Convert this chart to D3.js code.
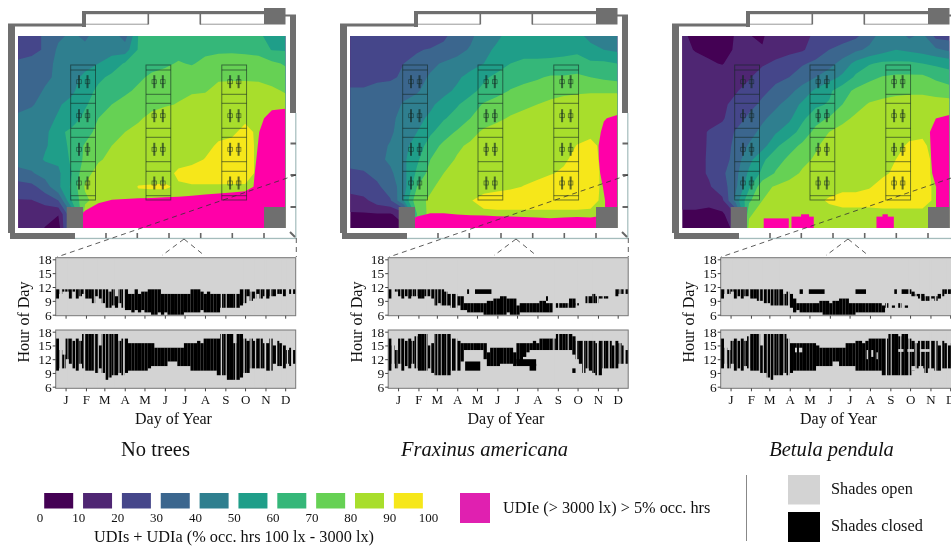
<!DOCTYPE html>
<html>
<head>
<meta charset="utf-8">
<script src="https://cdn.jsdelivr.net/npm/d3@7"></script>
<style>
  body { margin: 0; background: #fff; }
  svg { display: block; filter: blur(0.45px); }
  text { font-family: "Liberation Serif", serif; fill: #111; }
</style>
</head>
<body>
<svg id="chart" width="951" height="546"></svg>
<script>
// Sensor grid, 21 columns by 15 rows, window wall on the top edge
var noTreesUdi = [
  [25,27.5,31,38,42,38,45,45,36,60.5,64,65,65,65,65,65,65,65,62,56,56],
  [25,27.5,31,42,42,43,46,46,45,61,64,65,66,66,67,68,68,67,66,59.5,59],
  [32,33,37,42,45,47,50,55,61,64,66,68,71,69,73,75,76,76,75,72,69],
  [35,37,38,42,47,52,58,62,64,68,72,74,76,77,78,78,78,78,78,76,74],
  [35,36,41,46,48,56,62,64,68,72,75,77,78,79,79,84,85,85,84,82,79],
  [37,39,44,49,53,59,64,70,74,77,78,79,80.5,83,86,86,86,87,86,85,85],
  [42,44,47,51,56,62,70,74,77,79,82,85,86,87,87,87,88,88,88,88,88],
  [44,44,47,58,62,66,73,76,80,82,85,86,87,88,88,88,88,93,88,88,88],
  [45,45,49,54,63,71,76,80,83,85,86,87,88,88,88,91,93,94,88,88,88],
  [44,45,51,52,62,72,79,82,84,85,86,87,88,88,90.3,93,94,94,88,88,88],
  [37,39,44,48,60,77,83,85,86,86,87,88,91,93,93,93,94,94,88,88,88],
  [25,27,35,48,62,81,84,85,86,90.4,90.6,90.6,89.3,89.3,89.3,89.3,89,89,88,88,88],
  [19.5,19.5,24,30,60,78,84,85,86,87,87,87,87,87,87,87,87,87,86,85,85],
  [15,15,12,10.5,40,85,85,85,85,85,85,85,85,85,85,85,85,85,85,85,85],
  [14,13,9.8,5,45,85,85,85,85,85,85,85,85,85,85,85,85,85,85,85,85]
];
var noTreesUdie = [
  [0,0,0,0,0,0,0,0,0,0,0,0,0,0,0,0,0,0,0,0,0],
  [0,0,0,0,0,0,0,0,0,0,0,0,0,0,0,0,0,0,0,0,0],
  [0,0,0,0,0,0,0,0,0,0,0,0,0,0,0,0,0,0,0,0,0],
  [0,0,0,0,0,0,0,0,0,0,0,0,0,0,0,0,0,0,0,0,0],
  [0,0,0,0,0,0,0,0,0,0,0,0,0,0,0,0,0,0,0,0,0],
  [0,0,0,0,0,0,0,0,0,0,0,0,0,0,0,0,0,0,0,0,0],
  [0,0,0,0,0,0,0,0,0,0,0,0,0,0,0,0,0,0,0,12,16],
  [0,0,0,0,0,0,0,0,0,0,0,0,0,0,0,0,0,0,4.7,10,10],
  [0,0,0,0,0,0,0,0,0,0,0,0,0,0,0,0,0,0,5.3,10,10],
  [0,0,0,0,0,0,0,0,0,0,0,0,0,0,0,0,0,0,6,10,10],
  [0,0,0,0,0,0,0,0,0,0,0,0,0,0,0,0,0,0,7,10,10],
  [0,0,0,0,0,0,0,0,0,0,0,0,0,0,0,0,0,0,8,10,10],
  [0,0,0,0,0,0,3.75,5.3,5.7,6,6.2,6.6,7,7.8,9,10.5,12.4,16,20,20,20],
  [0,0,0,0,0,6.8,10,10,10,10,10,10,10,10,10,10,10,10,10,10,10],
  [0,0,0,0,0,10,10,10,10,10,10,10,10,10,10,10,10,10,10,10,10]
];
var fraxinusUdi = [
  [22,22,22,22,22,22,22,28,35,38,45,48,54,55,55,55,55,52,48,46,46],
  [25,25,25,25,27,29,31,33,37,41,47,52,55,56,56,57,58,58,52,50,48],
  [26,26,26,27,30,33,38,41,43,45,50,54,60,62,62,62,62,64,62,62,60],
  [27,27,28,28,32,37,41,44,48,54,58,63,66,68,69,71,71,72,70,68,66],
  [31,31,33,35,37,39,44,47,52,57,63,67,70.5,72,74,75,77,78,79,79,79],
  [33,31,30,36,41,44,48,54,59,65,71,74,76,78,80,83,85,86,85,85,85],
  [33,34,35,38,43,47,52,59,64,70,74,78,81,83,85,85,86,86,87,88,88],
  [34,35,36,38,46,50,58,66,71,76,82,84,85,86,86,87,87,87,88,88,88],
  [35,35,36,41,48,53,66,72,78,82,85,85,86,87,87,87,87,90.3,92,88,88],
  [34,35,37,42,48,58,70,76,81,83,85,86,87,87,87,88,89,92,93,88,88],
  [28,29,33,38,47,62,74,80,83,85,86,87,87,88,88,89.5,91,93,94,88,88],
  [25,27,28,35,45,70,79,82,85,86,87,88,89,90.2,92,94,94,94,94,88,88],
  [15,17,25,29,50,78,81,84,86,89.5,93,94,94,94,94,94,94,94,93,88,88],
  [9,9,9,9,15,70,84,85,86,88,88,88,88,88,88,88,88,88,88,88,88],
  [6,6,6,6,8,85,85,85,85,85,85,85,85,85,85,85,85,85,85,85,85]
];
var fraxinusUdie = [
  [0,0,0,0,0,0,0,0,0,0,0,0,0,0,0,0,0,0,0,0,0],
  [0,0,0,0,0,0,0,0,0,0,0,0,0,0,0,0,0,0,0,0,0],
  [0,0,0,0,0,0,0,0,0,0,0,0,0,0,0,0,0,0,0,0,0],
  [0,0,0,0,0,0,0,0,0,0,0,0,0,0,0,0,0,0,0,0,0],
  [0,0,0,0,0,0,0,0,0,0,0,0,0,0,0,0,0,0,0,0,0],
  [0,0,0,0,0,0,0,0,0,0,0,0,0,0,0,0,0,0,0,0,0],
  [0,0,0,0,0,0,0,0,0,0,0,0,0,0,0,0,0,0,0,4.55,6.6],
  [0,0,0,0,0,0,0,0,0,0,0,0,0,0,0,0,0,0,0,6.45,10],
  [0,0,0,0,0,0,0,0,0,0,0,0,0,0,0,0,0,0,0,8.3,10],
  [0,0,0,0,0,0,0,0,0,0,0,0,0,0,0,0,0,0,0,8,10],
  [0,0,0,0,0,0,0,0,0,0,0,0,0,0,0,0,0,0,0,6.9,10],
  [0,0,0,0,0,0,0,0,0,0,0,0,0,0,0,0,0,0,0,5.4,10],
  [0,0,0,0,0,0,0,0,0,0,0,0,0,0,0,0,0,0,0,4.5,10],
  [0,0,0,0,0,4,5.4,5.4,4.9,4.6,4.5,4.2,4,3.7,3.5,3,3.5,3.8,3.5,4.5,10],
  [0,0,0,0,7,10,10,10,10,10,10,10,10,10,10,10,10,10,10,10,10]
];
var betulaUdi = [
  [12,7,7,7,10.5,10.2,9.2,14,15,17,22,25,26,28,36,44,46,38,43,27,26],
  [14,9,8,8.5,10.5,14,10.5,15,17,18.8,25,30,33,38,42,46,50,48,46,42,38],
  [15,15,11,9.5,14,16,18.5,22,25,29,32,36,44,53,59,62,62,62,60,58,56],
  [15,15,15,15,16,19,25,28,30,35,40,46,52,62,68,70.5,72,72,72,68,65],
  [14,14,15,16,19,24,28,32,37,44,52,58,66,72,74,76,77,78,78,76,74],
  [14,14,15,18,23,27,32,38,44,52,58,61,70,76,81,83,85,85,85,85,85],
  [14,14,15,19,25,32,38,44,48,58,66,71,77,82,85,86,86,87,87,87,87],
  [14,15,21,23,31,36,43,49,55,64,73,80,84,86,86,87,87,88,88,86,86],
  [14,16,21,24,33,41,46,58,66,72,79,83,85,86,87,87,88,91,92,86,86],
  [15,17,21,24,35,47,58,66,72,78,81,85,86,86,87,88,90,93,94,87,87],
  [15,17,21,28,37,52,62,71,77,81,84,85,86,87,88,89,91,93,94,87,87],
  [15,15,19,25,38,58,77,81,83,85,86,87,88,88,89.5,92,94,94,94,88,88],
  [14,14,12,18,44,68,80,84,85,86,88,91,93,93,93,94,94,94,94,88,88],
  [8,8,8,8,20,78,86,86,86,87,87,87,87,87,87,87,87,87,87,87,87],
  [6,6,6,7,12,84,85,85,85,85,85,85,85,85,85,85,85,85,85,85,85]
];
var betulaUdie = [
  [0,0,0,0,0,0,0,0,0,0,0,0,0,0,0,0,0,0,0,0,0],
  [0,0,0,0,0,0,0,0,0,0,0,0,0,0,0,0,0,0,0,0,0],
  [0,0,0,0,0,0,0,0,0,0,0,0,0,0,0,0,0,0,0,0,0],
  [0,0,0,0,0,0,0,0,0,0,0,0,0,0,0,0,0,0,0,0,0],
  [0,0,0,0,0,0,0,0,0,0,0,0,0,0,0,0,0,0,0,0,0],
  [0,0,0,0,0,0,0,0,0,0,0,0,0,0,0,0,0,0,0,0,0],
  [0,0,0,0,0,0,0,0,0,0,0,0,0,0,0,0,0,0,0,4.9,6.6],
  [0,0,0,0,0,0,0,0,0,0,0,0,0,0,0,0,0,0,0,9,10],
  [0,0,0,0,0,0,0,0,0,0,0,0,0,0,0,0,0,0,0,8.3,10],
  [0,0,0,0,0,0,0,0,0,0,0,0,0,0,0,0,0,0,0,7.7,10],
  [0,0,0,0,0,0,0,0,0,0,0,0,0,0,0,0,0,0,0,6.9,10],
  [0,0,0,0,0,0,0,0,0,0,0,0,0,0,0,0,0,0,0,4.9,10],
  [0,0,0,0,0,0,0,0,0,0,0,0,0,0,0,0,0,0,0,4.95,10],
  [0,0,0,0,0,0,0,0,0,0,0,0,0,0,0,0,0,0,0,4.95,10],
  [0,0,0,0,0,0,0,0,0,0,0,0,0,0,0,0,0,0,0,4.95,10]
];
// Small glare patches too narrow for the grid, [col from, col to, row from, row to]
var noTreesUdieSpots = [];
var fraxinusUdieSpots = [];
var betulaUdieSpots = [[6.1,7.98,13.3,14],[8.18,9.85,13.17,14],[8.9,9.5,13,14],[14.55,15.85,13.17,14],[15,15.4,13,14]];

// Shade schedule per 5-day step of the year: hour closed from, hour closed to (0,0 = open)
var noTreesMorningFrom = [9.5,10.5,11,11,9.5,11,9.5,10,10.5,9.5,9.5,8.5,10,9.5,8.5,7.5,7.5,8,7.5,8.5,7.5,7,7,6.5,7,6.5,7,6.5,6.5,6,6,6.5,6,6.5,6,6,6,6,6,6.5,6.5,6.5,6.5,6.5,7,6.5,6.5,6.5,6.5,6.5,7.5,7.5,7.5,7.5,7.5,7.5,8,8.5,10,9,9.5,10.5,9.5,10,9.5,10,10,10.5,10.5,10,0,10.5,10.5];
var noTreesMorningTo = [11.5,11.5,11.5,11.5,11.5,11.5,11.5,11.5,11.5,11.5,11.5,11.5,11.5,11.5,11.5,11.5,11,11.5,10,11.5,11.5,11.5,10.5,10.5,11.5,10.5,11,11,11.5,11.5,11.5,11.5,10.5,10.5,10.5,10.5,10.5,10.5,10.5,10.5,10.5,11.5,11.5,11.5,11,10.5,11,10.5,10.5,10.5,10.5,10.5,10.5,10.5,10.5,10.5,11.5,11.5,11.5,11,11,11.5,11.5,11.5,11.5,11.5,11.5,11.5,11.5,11.5,0,11.5,11.5];
var noTreesAfternoonFrom = [9.5,10,10,12,11,10,9.5,11,10,9.5,9.5,9.5,9,10,9,7.5,8,8.5,8.5,9,8.5,9,9.5,9.5,9.5,9.5,9.5,9.5,10,10.5,10.5,10.5,10.5,10.5,11.5,11.5,11.5,10.5,10.5,10.5,10.5,9.5,9.5,9.5,9.5,9.5,9.5,9.5,9.5,8.5,8.5,8.5,7.5,7.5,7.5,7.5,8,9,9,10,10,10,10,10,9.5,9.5,11,10.5,10.5,10,11,10.5,11];
var noTreesAfternoonTo = [16.5,14,13,16.5,16.5,16,16.5,16,17.5,17.5,17.5,17.5,17.5,15,17.5,17.5,17.5,17.5,17.5,16,16.5,16.5,15.5,15.5,15.5,15.5,15.5,15.5,15.5,15.5,14.5,14.5,14.5,14.5,14.5,14.5,14.5,14.5,14.5,15.5,15.5,15.5,15.5,16,15.5,16.5,16.5,16.5,16.5,16.5,17.5,17.5,17.5,17.5,15.5,17.5,17.5,16.5,16,16.5,16,16.5,16.5,15.5,15.5,16.5,15,16,15.5,15,14,14.5,14];

var fraxinusMorningFrom = [9.5,0,11,10,9.5,10,9.5,10,10,9.5,9.5,10,10,9.5,8,8.5,8,8,8,7.5,7.5,8,7,7,6.5,6.5,6.5,6.5,6.5,6,6,6,6,6,6,6,6.5,6,6,6,6.5,6.5,6.5,6.5,6.5,6.5,6.5,6.5,6.5,6.5,0,7.5,7.5,7.5,7.5,7.5,7.5,8,0,0,8.5,8.5,8.5,8.5,9.5,9.5,9.5,0,0,10,10.5,10.5,10.5];
var fraxinusMorningTo = [11.5,0,11.5,11.5,11.5,11.5,11.5,11.5,11.5,11.5,11.5,11.5,11.5,11.5,11.5,11.5,11.5,11,10.5,10.5,10.5,10,10,8.5,8.5,8.5,8.5,8.5,8.5,8.5,9,9,9.5,9.5,10,10,9.5,9.5,9.5,8,8.5,8.5,8.5,8.5,8.5,8.5,9,9,8.5,8.5,0,8.5,8.5,8.5,8.5,9.5,9.5,8.5,0,0,10,10,10.5,10,10,10,10,0,0,11.5,11.5,11.5,11.5];
var fraxinusAfternoonFrom = [9.5,11,10,11,9.5,10.5,10,11,10,9.5,9.5,9.5,10,9,8.5,8.5,8.5,8.5,8.5,9.5,9.5,9.5,11.5,14,14,14,14,14,14,12,10.5,10.5,10.5,10.5,11,11,11,11,10.5,11,11,12.5,13.5,14,14,14,14,14,14,14,14,14,14,14,14,14,13,12,11,9,10,9.5,9,8.5,8.5,10,10,10,10,10,11,11,11];
var fraxinusAfternoonTo = [16.5,15,14,16.5,16.5,16,16.5,16,17,17.5,17.5,17.5,15,15.5,17.5,17.5,17.5,17.5,17.5,16.5,16.5,16,15.5,15.5,15.5,15.5,15.5,15.5,15.5,15.5,13.5,14.5,14.5,14.5,14.5,14.5,14.5,14.5,13.5,15.5,15.5,15.5,15.5,15.5,16,15.5,16.5,16.5,16.5,16.5,16.5,17.5,17.5,17.5,17.5,17.5,17,16,16,16,16,16,16,15.5,16,16,16,16,15,16,15.5,15,14];

var betulaMorningFrom = [9.5,10.5,10.5,11,9.5,10,9.5,10,10,9.5,9.5,9,9,8.5,8.5,8,8,8,8,8,8,7.5,6.5,7,6.5,6.5,6.5,6.5,6.5,6.5,6.5,6,6,6,6,6,6,6,6,6,6,6.5,6.5,6.5,6.5,6.5,6.5,6.5,6.5,6.5,7.5,0,7.5,0,7.5,0,7.5,0,10,10,9.5,9,9,9,9.5,9,9.5,10,10.5,10.5,10.5,10.5,10.5];
var betulaMorningTo = [11.5,11.5,11.5,11.5,11.5,11.5,11.5,11.5,11.5,11.5,11.5,11.5,11.5,11.5,11.5,11.5,11.5,11.5,11.5,10.5,11,10.5,9.5,8.5,8.5,8.5,8.5,8.5,8.5,8.5,9,9,9,8.5,9,9,9.5,9.5,9.5,8.5,8.5,8.5,8.5,8.5,8.5,8.5,8.5,8.5,8.5,8,8.5,0,8,0,8.5,0,8,0,11,10.5,10.5,10.5,10,10,10,10,10.5,11.5,11.5,11.5,11.5,11.5,11.5];
var betulaAfternoonFrom = [10,11,10,11,9.5,10,9.5,10.5,10,9.5,9.5,9.5,9,9,8,7.5,8.5,8.5,8.5,9,8.5,9,9.5,9.5,9.5,9.5,9.5,9.5,9.5,10.5,10.5,10.5,10.5,10.5,11.5,11.5,10.5,10.5,10.5,10.5,10.5,9.5,9.5,9.5,9.5,9.5,9.5,9.5,9.5,8.5,8.5,8.5,8.5,8.5,8.5,8.5,8.5,8.5,9.5,10,10,10,9,10,10,9.5,9.5,10,10,10,10.5,10.5,10.5];
var betulaAfternoonTo = [16.5,14.5,14,16,16.5,16,16.5,16,17,17.5,17.5,17.5,15,17.5,17.5,17.5,17.5,17.5,17.5,17.5,16.5,15.5,15.5,15.5,15.5,15.5,15.5,15.5,15.5,15,14.5,14.5,14.5,14.5,14.5,14.5,14.5,14.5,15.5,15.5,15.5,16,16,15.5,16,16.5,16.5,16.5,16.5,16.5,16.5,17.5,17.5,17.5,17,17.5,17.5,16.5,16,15.5,16,16,16,16,16,16,15,16,15.5,15,15.5,15.5,15.5];

// Overcast spells, same weather file for all three cases, the shades stay open [from day, to day]
var overcastDays = [[5.5,9.5],[13,14],[18,19],[24.5,25.5],[29.5,30.5],[36.5,37.5],[42.5,44.5],[58,59.5],[64,65.5],[70.5,71.5],[75,76],[80.5,81.5],[88,89],[95.5,97],[102.5,105],[251,253],[258.5,260],[273,274.5],[285.5,287.5],[296,298],[303,304.5],[311,312],[317.5,320],[326,328],[335,337],[344,345.5],[351.5,353.5],[358,361]];

// Extra closed spells, [from day, to day, from hour, to hour]
var noTreesMorningExtra = [];
var noTreesAfternoonExtra = [];
var fraxinusMorningExtra = [[120,123,10.5,11.5],[132,157,10.5,11.5],[240,243,9,10]];
var fraxinusAfternoonExtra = [[117,140,9.5,11.5],[195,225,10.5,12],[215,225,9.5,11],[280,285,9,10]];
var betulaMorningExtra = [[120,125,10.5,11.5],[134,158,10.5,11.5],[205,221,10.5,11.5],[264,268,10.5,11.5],[275,290,10.5,11.5]];
var betulaAfternoonExtra = [];
// Open spells inside a closed block
var noTreesAfternoonOpen = [];
var fraxinusAfternoonOpen = [];
var betulaAfternoonOpen = [[113,116,13.5,14.5],[119,124,13.5,14.5],[222,224,12,14],[229,232,12.5,14],[237,239,12,13.5],[270,278,13.6,14.2],[284,294,13.6,14.2],[303,318,13.6,14.2],[290,296,9.5,10.5],[301,308,9.5,10.5]];

var monthLabels = ['J','F','M','A','M','J','J','A','S','O','N','D'];
var monthMidDays = [15,46,74,105,135,166,196,227,258,288,319,349];
var hourTicks = [6,9,12,15,18];

var udiLevels = [0,10,20,30,40,50,60,70,80,90];
var udiColors = ['#440154','#4f2673','#45468a','#3b668e','#2f7f8f','#1f9e89','#35b779','#66d154','#a8de2c','#f6e71a'];
var udiTickLabels = [0,10,20,30,40,50,60,70,80,90,100];

var speciesNames = ['No trees','Fraxinus americana','Betula pendula'];

var panels = [
  { title: speciesNames[0], italic: false, dx: 0, mapDx: 0, udi: noTreesUdi, udie: noTreesUdie, spots: noTreesUdieSpots,
    morning: [noTreesMorningFrom, noTreesMorningTo, noTreesMorningExtra, []],
    afternoon: [noTreesAfternoonFrom, noTreesAfternoonTo, noTreesAfternoonExtra, noTreesAfternoonOpen] },
  { title: speciesNames[1], italic: true, dx: 332.5, mapDx: 332, udi: fraxinusUdi, udie: fraxinusUdie, spots: fraxinusUdieSpots,
    morning: [fraxinusMorningFrom, fraxinusMorningTo, fraxinusMorningExtra, []],
    afternoon: [fraxinusAfternoonFrom, fraxinusAfternoonTo, fraxinusAfternoonExtra, fraxinusAfternoonOpen] },
  { title: speciesNames[2], italic: true, dx: 665, mapDx: 664, udi: betulaUdi, udie: betulaUdie, spots: betulaUdieSpots,
    morning: [betulaMorningFrom, betulaMorningTo, betulaMorningExtra, []],
    afternoon: [betulaAfternoonFrom, betulaAfternoonTo, betulaAfternoonExtra, betulaAfternoonOpen] }
];

var svg = d3.select('#chart');
var nCols = 21, nRows = 15;

var roomX = d3.scaleLinear().domain([0.5, nCols - 0.5]).range([18.3, 285.2]);
var roomY = d3.scaleLinear().domain([0.5, nRows - 0.5]).range([36, 228]);
var roomPath = d3.geoPath(d3.geoTransform({
  point: function (x, y) { this.stream.point(roomX(x), roomY(y)); }
}));
var udiColor = d3.scaleOrdinal().domain(udiLevels).range(udiColors);

svg.append('defs').append('clipPath').attr('id', 'roomClip').append('rect')
  .attr('x', 18.3).attr('y', 36).attr('width', 266.9).attr('height', 192);

var wallGray = '#6f6f6f';
var glassGray = '#a4bcbc';

var drawMap = function (g, panel) {
  var contours = d3.contours().size([nCols, nRows]);

  var field = g.append('g').attr('clip-path', 'url(#roomClip)');
  field.selectAll('path.udi')
    .data(contours.thresholds(udiLevels)(d3.merge(panel.udi)))
    .enter().append('path')
    .attr('class', 'udi')
    .attr('d', roomPath)
    .attr('fill', function (d) { return udiColor(d.value); });
  field.selectAll('path.udie')
    .data(contours.thresholds([5])(d3.merge(panel.udie)))
    .enter().append('path')
    .attr('class', 'udie')
    .attr('d', roomPath)
    .attr('fill', '#ff00a8');
  field.selectAll('rect.spot')
    .data(panel.spots)
    .enter().append('rect')
    .attr('class', 'spot')
    .attr('x', function (d) { return roomX(d[0] + 0.5); })
    .attr('width', function (d) { return roomX(d[1] + 0.5) - roomX(d[0] + 0.5); })
    .attr('y', function (d) { return roomY(d[2] + 0.5); })
    .attr('height', function (d) { return roomY(d[3] + 0.5) - roomY(d[2] + 0.5); })
    .attr('fill', '#ff00a8');

  // walls and glazing of the room
  var rect = function (x, y, w, h, fill, stroke) {
    g.append('rect').attr('x', x).attr('y', y).attr('width', w).attr('height', h)
      .attr('fill', fill).attr('stroke', stroke || 'none');
  };
  rect(8, 23.5, 75, 3, wallGray);
  rect(8, 26, 7, 207, wallGray);
  rect(82, 11, 4, 16, wallGray);
  rect(82, 11, 183, 3.2, wallGray);
  rect(86, 23.7, 62, 1, '#999');
  rect(200, 23.7, 64, 1, '#999');
  rect(147.5, 14, 1.6, 10.5, wallGray);
  rect(199.5, 14, 1.6, 10.5, wallGray);
  rect(264, 8, 21.5, 16.5, wallGray);
  rect(285, 14.5, 11, 2, wallGray);
  rect(290, 16, 6, 97, wallGray);
  rect(295.2, 113, 1.2, 125, glassGray);
  rect(10, 233, 65, 6, wallGray);
  rect(75, 237.8, 221, 1.3, glassGray);
  [106, 137.3, 169, 200.7, 232.3, 264].forEach(function (x) { rect(x - 0.8, 233, 1.6, 5, '#666'); });
  [143.5, 175, 207].forEach(function (y) { rect(290.5, y - 1, 5.5, 2, '#666'); });
  rect(66.7, 207, 16.3, 21, wallGray);
  rect(264, 207, 21.3, 21, wallGray);
  g.append('line').attr('x1', 290).attr('y1', 232).attr('x2', 295).attr('y2', 237)
    .attr('stroke', '#666').attr('stroke-width', 2);

  // desks and task lights
  var deskStroke = 'rgba(20,40,35,0.65)';
  [70.7, 146, 221.8].forEach(function (x) {
    g.append('rect').attr('x', x).attr('y', 65).attr('width', 24.8).attr('height', 135)
      .attr('fill', 'none').attr('stroke', deskStroke).attr('stroke-width', 0.9);
    [70, 94.3, 103.3, 128.3, 137.3, 161.7, 171.3, 195.7].forEach(function (y) {
      g.append('line').attr('x1', x).attr('x2', x + 24.8).attr('y1', y).attr('y2', y)
        .attr('stroke', deskStroke).attr('stroke-width', 0.9);
    });
    [81.7, 115.7, 149.3, 183].forEach(function (y) {
      [8.3, 16.8].forEach(function (off) {
        g.append('rect').attr('x', x + off - 1).attr('y', y - 6.5).attr('width', 2).attr('height', 13)
          .attr('fill', deskStroke);
        g.append('rect').attr('x', x + off - 2.3).attr('y', y - 2).attr('width', 4.6).attr('height', 4)
          .attr('fill', 'none').attr('stroke', deskStroke).attr('stroke-width', 0.7);
      });
    });
  });

  // view lines down to the schedules
  var dashed = [[296, 175, 57, 257], [184, 239, 162, 255.5], [184, 239, 205, 256], [296.3, 238, 296.3, 257]];
  dashed.forEach(function (l) {
    g.append('line').attr('x1', l[0]).attr('y1', l[1]).attr('x2', l[2]).attr('y2', l[3])
      .attr('stroke', '#333').attr('stroke-width', 0.8).attr('stroke-dasharray', '5,4');
  });
};

var dayX = d3.scaleLinear().domain([0, 365]).range([55.7, 295.7]);

var drawSchedule = function (g, rows, top, bottom, hour6, hour18, showMonths) {
  var y = d3.scaleLinear().domain([6, 18]).range([hour6, hour18]);
  var from = rows[0], to = rows[1], extra = rows[2], open = rows[3];

  g.append('rect').attr('x', dayX(0)).attr('y', top)
    .attr('width', dayX(365) - dayX(0)).attr('height', bottom - top)
    .attr('fill', '#d3d3d3');

  var step = dayX(5) - dayX(0);
  g.selectAll(null).data(from).enter().append('rect')
    .attr('x', function (d, i) { return dayX(i * 5); })
    .attr('width', step)
    .attr('y', function (d, i) { return y(to[i]); })
    .attr('height', function (d, i) { return Math.max(0, y(d) - y(to[i])); })
    .attr('fill', '#000');

  var runs = function (list, color) {
    g.selectAll(null).data(list).enter().append('rect')
      .attr('x', function (d) { return dayX(d[0]); })
      .attr('width', function (d) { return dayX(d[1]) - dayX(d[0]); })
      .attr('y', function (d) { return y(d[3]); })
      .attr('height', function (d) { return y(d[2]) - y(d[3]); })
      .attr('fill', color);
  };
  runs(extra, '#000');
  runs(open, '#d3d3d3');
  runs(overcastDays.map(function (d) { return [d[0], d[1], 6, 18]; }), '#d3d3d3');

  g.append('rect').attr('x', dayX(0)).attr('y', top)
    .attr('width', dayX(365) - dayX(0)).attr('height', bottom - top)
    .attr('fill', 'none').attr('stroke', '#777').attr('stroke-width', 1);

  var yAxis = d3.axisLeft(y).tickValues(hourTicks).tickSize(3).tickPadding(1);
  var ya = g.append('g').attr('transform', 'translate(' + dayX(0) + ',0)').call(yAxis);
  ya.select('.domain').remove();
  ya.selectAll('line').attr('stroke', '#444');
  ya.selectAll('text').attr('font-size', 13.5).attr('font-family', 'Liberation Serif');

  var xAxis = d3.axisBottom(dayX).tickValues(monthMidDays).tickSize(3).tickPadding(3)
    .tickFormat(function (d, i) { return showMonths ? monthLabels[i] : ''; });
  var xa = g.append('g').attr('transform', 'translate(0,' + bottom + ')').call(xAxis);
  xa.select('.domain').remove();
  xa.selectAll('line').attr('stroke', '#444');
  xa.selectAll('text').attr('font-size', 13).attr('font-family', 'Liberation Serif');
};

panels.forEach(function (panel, i) {
  drawMap(svg.append('g').attr('transform', 'translate(' + panel.mapDx + ',0)'), panel);

  var g = svg.append('g').attr('transform', 'translate(' + panel.dx + ',0)');
  drawSchedule(g, panel.morning, 257.7, 315.7, 314.7, 259.3, false);
  drawSchedule(g, panel.afternoon, 330, 388.3, 386.7, 331.7, true);

  g.append('text').attr('x', 173.5).attr('y', 424).attr('text-anchor', 'middle')
    .attr('font-size', 16).text('Day of Year');
  g.append('text').attr('transform', 'translate(29,322) rotate(-90)').attr('text-anchor', 'middle')
    .attr('font-size', 16).text('Hour of Day');
});

// species titles
var titleX = [155.5, 484.5, 831.5];
panels.forEach(function (panel, i) {
  svg.append('text').attr('x', titleX[i]).attr('y', 456).attr('text-anchor', 'middle')
    .attr('font-size', 20.5).attr('font-style', panel.italic ? 'italic' : 'normal').text(panel.title);
});

// legend
var legendX = d3.scaleLinear().domain([0, 100]).range([40, 428.5]);
svg.selectAll('rect.key').data(udiLevels).enter().append('rect')
  .attr('class', 'key')
  .attr('x', function (d) { return legendX(d) + 4.2; })
  .attr('y', 493).attr('width', 29).attr('height', 15.5)
  .attr('fill', function (d) { return udiColor(d); });
svg.selectAll('text.keyLabel').data(udiTickLabels).enter().append('text')
  .attr('class', 'keyLabel')
  .attr('x', function (d) { return legendX(d); })
  .attr('y', 522).attr('text-anchor', 'middle').attr('font-size', 13)
  .text(function (d) { return d; });
svg.append('text').attr('x', 234).attr('y', 542).attr('text-anchor', 'middle')
  .attr('font-size', 16.3).text('UDIs + UDIa (% occ. hrs 100 lx - 3000 lx)');

svg.append('rect').attr('x', 460).attr('y', 493).attr('width', 30).attr('height', 30).attr('fill', '#e020b0');
svg.append('text').attr('x', 503).attr('y', 513).attr('font-size', 16.3).text('UDIe (> 3000 lx) > 5% occ. hrs');

svg.append('line').attr('x1', 746.5).attr('x2', 746.5).attr('y1', 475).attr('y2', 541)
  .attr('stroke', '#888').attr('stroke-width', 1);
svg.append('rect').attr('x', 788).attr('y', 475).attr('width', 32).attr('height', 29.5).attr('fill', '#d3d3d3');
svg.append('rect').attr('x', 788).attr('y', 512).attr('width', 32).attr('height', 30).attr('fill', '#000');
svg.append('text').attr('x', 831).attr('y', 494).attr('font-size', 16.3).text('Shades open');
svg.append('text').attr('x', 831).attr('y', 531).attr('font-size', 16.3).text('Shades closed');
</script>
</body>
</html>
